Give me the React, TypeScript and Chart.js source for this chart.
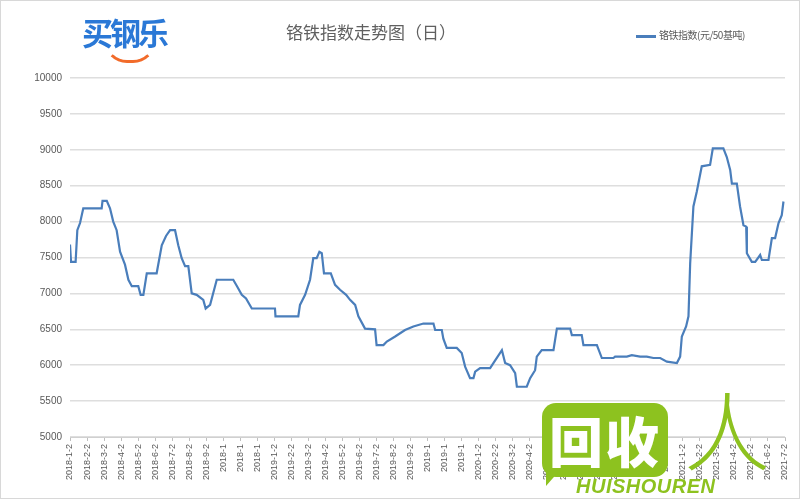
import React, { useEffect, useRef } from "react";
import { Chart, registerables } from "chart.js";

Chart.register(...registerables);

const TITLE = "铬铁指数走势图（日）";
const SERIES_NAME = "铬铁指数(元/50基吨)";

const TICK_LABELS = [
  "2018-1-2", "2018-2-2", "2018-3-2", "2018-4-2", "2018-5-2", "2018-6-2", "2018-7-2", "2018-8-2", "2018-9-2", "2018-10-2", "2018-11-2", "2018-12-2",
  "2019-1-2", "2019-2-2", "2019-3-2", "2019-4-2", "2019-5-2", "2019-6-2", "2019-7-2", "2019-8-2", "2019-9-2", "2019-10-2", "2019-11-2", "2019-12-2",
  "2020-1-2", "2020-2-2", "2020-3-2", "2020-4-2", "2020-5-2", "2020-6-2", "2020-7-2", "2020-8-2", "2020-9-2", "2020-10-2", "2020-11-2", "2020-12-2",
  "2021-1-2", "2021-2-2", "2021-3-2", "2021-4-2", "2021-5-2", "2021-6-2", "2021-7-2",
];

// position along the time axis, in months since 2018-1-2
const MONTH_POS = [
  0, 0.06, 0.33, 0.43, 0.59, 0.78, 1.86, 1.91, 2.16, 2.35, 2.54, 2.74, 2.94, 3.23, 3.43, 3.63, 4.01, 4.15, 4.31, 4.51,
  5.09, 5.39, 5.64, 5.88, 6.17, 6.36, 6.56, 6.76, 6.95, 7.15, 7.44, 7.83, 7.97, 8.23, 8.62, 9.59, 9.81, 10.09, 10.34, 10.68,
  12.04, 12.07, 13.41, 13.51, 13.81, 14.10, 14.29, 14.49, 14.65, 14.79, 14.92, 15.32, 15.57, 15.86, 16.22, 16.45, 16.75, 16.94, 17.33, 17.92,
  18.01, 18.41, 18.61, 19.10, 19.68, 20.17, 20.76, 21.35, 21.45, 21.84, 21.93, 22.13, 22.72, 23.01, 23.21, 23.50, 23.70, 23.80, 24.09, 24.68,
  24.87, 25.37, 25.56, 25.85, 26.15, 26.25, 26.83, 27.03, 27.32, 27.42, 27.71, 28.40, 28.60, 29.38, 29.48, 30.06, 30.16, 30.95, 31.24, 31.92,
  32.02, 32.71, 33.00, 33.49, 33.88, 34.27, 34.67, 35.06, 35.65, 35.84, 35.94, 36.19, 36.33, 36.43, 36.62, 36.82, 37.11, 37.60, 37.76, 38.38,
  38.58, 38.78, 38.88, 39.17, 39.36, 39.56, 39.72, 39.76, 40.05, 40.25, 40.54, 40.64, 41.03, 41.23, 41.42, 41.62, 41.81, 41.91,
];

const INDEX_VALUES = [
  7680, 7440, 7440, 7880, 7980, 8185, 8185, 8290, 8290, 8185, 8000, 7880, 7580, 7400, 7190, 7100, 7100, 6980, 6980, 7280,
  7280, 7670, 7800, 7880, 7880, 7670, 7490, 7380, 7380, 7000, 6980, 6910, 6790, 6840, 7190, 7190, 7100, 6980, 6930, 6790,
  6790, 6680, 6680, 6840, 6980, 7190, 7490, 7490, 7580, 7560, 7280, 7280, 7120, 7050, 6980, 6910, 6840, 6680, 6510, 6500,
  6280, 6280, 6330, 6400, 6490, 6540, 6580, 6580, 6490, 6490, 6370, 6240, 6240, 6170, 5980, 5820, 5820, 5910, 5960, 5960,
  6030, 6210, 6030, 6000, 5890, 5700, 5700, 5820, 5930, 6120, 6210, 6210, 6510, 6510, 6420, 6420, 6280, 6280, 6100, 6100,
  6120, 6120, 6140, 6120, 6120, 6100, 6100, 6050, 6030, 6120, 6400, 6540, 6680, 7420, 8210, 8420, 8770, 8790, 9020, 9020,
  8900, 8720, 8530, 8530, 8210, 7950, 7930, 7560, 7440, 7440, 7535, 7465, 7465, 7770, 7770, 7980, 8090, 8280,
];

const Y_MIN = 5000;
const Y_MAX = 10000;
const Y_STEP = 500;

const LINE_COLOR = "#4a7ebb";
const TEXT_COLOR = "#595959";
const GREEN = "#8dc21f";

function IndexChart() {
  const canvasRef = useRef<HTMLCanvasElement | null>(null);

  useEffect(() => {
    const canvas = canvasRef.current;
    if (!canvas) return;
    const chart = new Chart(canvas, {
      type: "line",
      data: {
        datasets: [
          {
            label: SERIES_NAME,
            data: MONTH_POS.map((x, i) => ({ x, y: INDEX_VALUES[i] })),
            borderColor: LINE_COLOR,
            backgroundColor: LINE_COLOR,
            borderWidth: 2.2,
            pointRadius: 0,
            tension: 0,
            fill: false,
          },
        ],
      },
      options: {
        animation: false,
        responsive: false,
        maintainAspectRatio: false,
        events: [],
        layout: { padding: { left: 0, right: 15, top: 78, bottom: 0 } },
        plugins: {
          legend: { display: false },
          title: { display: false },
          tooltip: { enabled: false },
        },
        scales: {
          x: {
            type: "linear",
            min: 0,
            max: TICK_LABELS.length - 1,
            afterFit: (s: any) => {
              s.height = 63;
            },
            afterBuildTicks: (s: any) => {
              s.ticks = TICK_LABELS.map((_, i) => ({ value: i }));
            },
            ticks: {
              autoSkip: false,
              maxRotation: 90,
              minRotation: 90,
              padding: 3,
              color: TEXT_COLOR,
              font: { size: 9, family: "'Liberation Sans', sans-serif" },
              callback: (v: any) => {
                const lab = TICK_LABELS[Math.round(Number(v))] ?? "";
                return lab.length > 8 ? lab.slice(0, 6) : lab;
              },
            },
            grid: { drawOnChartArea: false, drawTicks: true, tickLength: 4, color: "#bfbfbf" },
            border: { color: "#d0d0d0", width: 1 },
          },
          y: {
            min: Y_MIN,
            max: Y_MAX,
            afterFit: (s: any) => {
              s.width = 70;
            },
            ticks: {
              stepSize: Y_STEP,
              padding: 8,
              color: TEXT_COLOR,
              font: { size: 10, family: "'Liberation Sans', sans-serif" },
              callback: (v: any) => String(v),
            },
            grid: { color: "#dedede", lineWidth: 1.5, drawTicks: false },
            border: { display: false },
          },
        },
      },
    });
    return () => chart.destroy();
  }, []);

  return <canvas ref={canvasRef} width={800} height={500} style={{ display: "block", width: 800, height: 500 }} />;
}

export default function App() {
  const abs = (o: React.CSSProperties): React.CSSProperties => ({ position: "absolute", margin: 0, ...o });
  return (
    <div
      style={{
        position: "fixed",
        left: 0,
        top: 0,
        width: 800,
        height: 500,
        background: "#ffffff",
        overflow: "hidden",
        fontFamily: "'Noto Sans CJK SC', sans-serif",
      }}
    >
      <IndexChart />
      {/* brand logo */}
      <div style={abs({ left: 82, top: 12, fontSize: 31, fontWeight: 700, color: "#2a78d6", letterSpacing: -3, lineHeight: "40px", whiteSpace: "nowrap" })}>
        买钢乐
      </div>
      <div
        style={abs({
          left: 104,
          top: 40,
          width: 46,
          height: 20,
          borderLeft: "3px solid transparent",
          borderRight: "3px solid transparent",
          borderBottom: "3px solid #f26b2a",
          borderRadius: "0 0 28px 28px",
        })}
      />
      {/* title */}
      <div style={abs({ left: 271, top: 20, width: 200, textAlign: "center", fontSize: 17, color: "#606060", lineHeight: "24px", whiteSpace: "nowrap" })}>
        {TITLE}
      </div>
      {/* legend */}
      <div style={abs({ left: 636, top: 35, width: 20, height: 2.5, background: LINE_COLOR })} />
      <div style={abs({ left: 659, top: 28, fontSize: 10, color: TEXT_COLOR, lineHeight: "14px", whiteSpace: "nowrap", letterSpacing: -0.5 })}>
        {SERIES_NAME}
      </div>
      {/* watermark */}
      <div
        style={abs({
          left: 542,
          top: 403,
          width: 126,
          height: 74,
          background: GREEN,
          borderRadius: 14,
          color: "#ffffff",
          fontSize: 54,
          fontWeight: 900,
          lineHeight: "74px",
          textAlign: "center",
          letterSpacing: 2,
          whiteSpace: "nowrap",
        })}
      >
        回收
      </div>
      <div style={abs({ left: 546, top: 470, width: 0, height: 0, borderTop: "16px solid " + GREEN, borderRight: "14px solid transparent" })} />
      <div style={abs({ left: 684, top: 378, fontSize: 86, color: GREEN, fontWeight: 300, lineHeight: "100px", whiteSpace: "nowrap" })}>人</div>
      <div
        style={abs({
          left: 576,
          top: 475,
          fontSize: 20,
          fontStyle: "italic",
          fontWeight: 700,
          color: GREEN,
          lineHeight: "22px",
          fontFamily: "'Liberation Sans', sans-serif",
          letterSpacing: 0.5,
          whiteSpace: "nowrap",
        })}
      >
        HUISHOUREN
      </div>
      <div style={abs({ left: 0, top: 0, width: 800, height: 499, boxSizing: "border-box", border: "1px solid #d8d8d8", pointerEvents: "none" })} />
    </div>
  );
}
